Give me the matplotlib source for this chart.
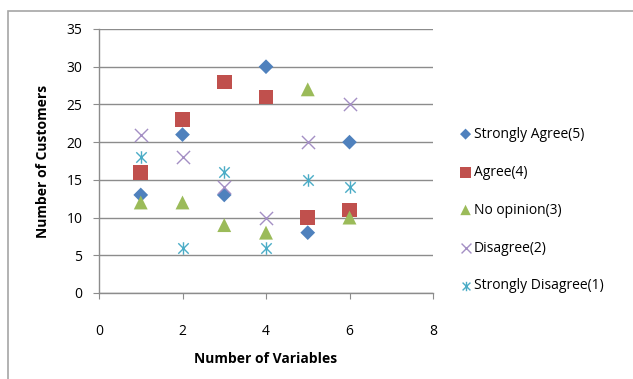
import matplotlib
matplotlib.use("Agg")
import matplotlib.pyplot as plt
from matplotlib.path import Path
from matplotlib.patches import Rectangle

x = [1, 2, 3, 4, 5, 6]
strongly_agree = [13, 21, 13, 30, 8, 20]
agree = [16, 23, 28, 26, 10, 11]
no_opinion = [12, 12, 9, 8, 27, 10]
disagree = [21, 18, 14, 10, 20, 25]
strongly_disagree = [18, 6, 16, 6, 15, 14]
labels = ["Strongly Agree(5)", "Agree(4)", "No opinion(3)", "Disagree(2)", "Strongly Disagree(1)"]
xticks = [0, 2, 4, 6, 8]
yticks = [0, 5, 10, 15, 20, 25, 30, 35]

plt.rcParams['font.family'] = ['Open Sans', 'DejaVu Sans']

star = Path([(-1, -1), (1, 1), (-1, 1), (1, -1), (0, -1.2), (0, 1.2)],
            [Path.MOVETO, Path.LINETO, Path.MOVETO, Path.LINETO, Path.MOVETO, Path.LINETO])

fig = plt.figure(figsize=(6.33, 3.79), dpi=100)
fig.patches.append(Rectangle((8/633, -0.1), 1.2, 1 - 11/379 + 0.1, transform=fig.transFigure,
                             fill=False, edgecolor='#a6a6a6', linewidth=1.2))
ax = fig.add_axes([99/633, 1 - 293/379, (433 - 99)/633, (293 - 29)/379])

series = [
    (strongly_agree, 'D', '#4F81BD', 7.5, dict()),
    (agree, 's', '#C0504D', 10.5, dict()),
    (no_opinion, '^', '#9BBB59', 10, dict()),
    (disagree, 'x', '#A48FC4', 10, dict(linewidths=1.0)),
    (strongly_disagree, star, '#4BACC6', 9.5, dict(linewidths=1.0)),
]
for (vals, m, c, s, kw), lab in zip(series, labels):
    if m in ('x',) or m is star:
        ax.scatter(x, vals, marker=m, s=s**2 * 0.9, c=c, label=lab, zorder=3, **kw)
    else:
        ax.scatter(x, vals, marker=m, s=s**2, c=c, label=lab, zorder=3, edgecolors='none')

ax.set_xlim(0, 8)
ax.set_ylim(0, 35)
ax.set_xticks(xticks)
ax.set_yticks(yticks)
ax.yaxis.grid(True, color='#8c8c8c', linewidth=1.0)
ax.set_axisbelow(True)
for sp in ['top', 'right']:
    ax.spines[sp].set_visible(False)
for sp in ['left', 'bottom']:
    ax.spines[sp].set_color('#8c8c8c')
    ax.spines[sp].set_linewidth(1.0)
ax.tick_params(axis='x', length=4, color='#8c8c8c', pad=18, labelsize=10)
ax.tick_params(axis='y', length=4, color='#8c8c8c', pad=8, labelsize=10)
ax.set_xlabel("Number of Variables", fontsize=10, fontweight='bold', labelpad=10)
ax.set_ylabel("Number of Customers", fontsize=10, fontweight='bold', labelpad=12)

leg = ax.legend(loc='center left', bbox_to_anchor=(1.06, 0.314), frameon=False, fontsize=10,
                handletextpad=0.1, handlelength=1.0, labelspacing=1.65, markerscale=0.75,
                borderaxespad=0.0)

fig.savefig("out.png", dpi=100)
